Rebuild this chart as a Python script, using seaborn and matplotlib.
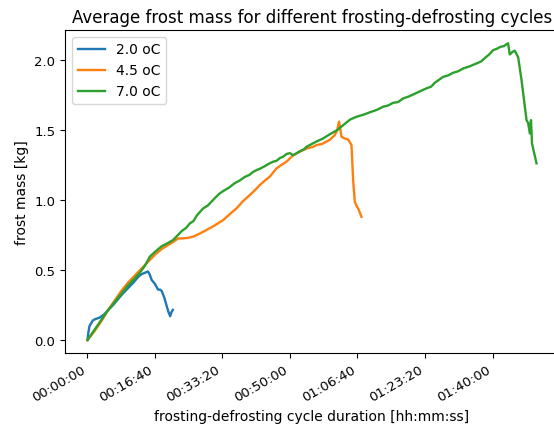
import numpy as np
import pandas as pd
import seaborn as sns
import matplotlib.pyplot as plt
from matplotlib.ticker import MultipleLocator, FuncFormatter

# cycle duration in seconds, average frost mass in kg
t_20 = [0, 15, 30, 55, 80, 120, 180, 240, 300, 380, 450, 520, 600, 680, 750, 800,
        850, 895, 920, 950, 1000, 1045, 1075, 1100, 1140, 1175, 1200, 1225, 1245, 1265]
m_20 = [0, 0.06, 0.10, 0.12, 0.14, 0.15, 0.16, 0.18, 0.21, 0.25, 0.29, 0.33, 0.37, 0.41, 0.45, 0.47,
        0.48, 0.49, 0.47, 0.43, 0.40, 0.36, 0.36, 0.35, 0.30, 0.24, 0.20, 0.17, 0.20, 0.215]

t_45 = [0, 100, 200, 300, 400, 500, 600, 700, 800, 900, 1000, 1100, 1200, 1268, 1340, 1417,
        1490, 1565, 1660, 1763, 1890, 2010, 2110, 2207, 2300, 2405, 2480, 2553, 2630, 2701,
        2800, 2870, 2948, 3046, 3145, 3194, 3260, 3342, 3393, 3470, 3590, 3664, 3700, 3727,
        3763, 3810, 3861, 3911, 3935, 3960, 3985, 4009, 4035, 4059]
m_45 = [0, 0.06, 0.13, 0.21, 0.28, 0.35, 0.41, 0.46, 0.51, 0.56, 0.61, 0.65, 0.68, 0.70, 0.725, 0.726,
        0.73, 0.738, 0.76, 0.786, 0.82, 0.857, 0.90, 0.94, 0.99, 1.036, 1.07, 1.107, 1.14, 1.167,
        1.226, 1.25, 1.274, 1.32, 1.345, 1.357, 1.37, 1.38, 1.393, 1.40, 1.43, 1.464, 1.50, 1.56,
        1.452, 1.44, 1.433, 1.393, 1.143, 0.988, 0.96, 0.94, 0.91, 0.88]

t_70 = [0, 100, 200, 300, 400, 500, 600, 700, 775, 850, 923, 1000, 1100, 1180, 1268, 1340, 1400,
        1460, 1516, 1570, 1620, 1713, 1780, 1840, 1900, 1960, 2030, 2100, 2180, 2256, 2330,
        2400, 2450, 2504, 2560, 2620, 2690, 2750, 2800, 2850, 2900, 2948, 3000, 3046, 3100,
        3150, 3200, 3244, 3320, 3400, 3490, 3590, 3700, 3800, 3890, 3985, 4090, 4200, 4290,
        4380, 4450, 4530, 4600, 4676, 4760, 4850, 4940, 5022, 5090, 5150, 5210, 5268, 5340,
        5420, 5490, 5565, 5660, 5763, 5830, 5900, 5950, 6010, 6060, 6120, 6170, 6207, 6231,
        6256, 6300, 6330, 6380, 6430, 6504, 6528, 6553, 6570, 6585, 6620, 6652]
m_70 = [0, 0.07, 0.14, 0.21, 0.27, 0.33, 0.39, 0.44, 0.48, 0.53, 0.595, 0.63, 0.67, 0.69, 0.714, 0.75, 0.78,
        0.80, 0.833, 0.85, 0.89, 0.94, 0.96, 0.99, 1.02, 1.048, 1.07, 1.09, 1.12, 1.14, 1.165,
        1.18, 1.20, 1.214, 1.225, 1.24, 1.26, 1.274, 1.28, 1.30, 1.31, 1.329, 1.335, 1.32, 1.335,
        1.35, 1.36, 1.38, 1.40, 1.42, 1.44, 1.47, 1.50, 1.54, 1.575, 1.595, 1.61, 1.63, 1.645,
        1.667, 1.675, 1.695, 1.70, 1.726, 1.74, 1.76, 1.78, 1.798, 1.81, 1.84, 1.86, 1.88, 1.89,
        1.91, 1.92, 1.94, 1.955, 1.976, 1.99, 2.02, 2.04, 2.071, 2.08, 2.095, 2.10, 2.114, 2.12,
        2.04, 2.06, 2.067, 2.02, 1.857, 1.571, 1.55, 1.476, 1.571, 1.405, 1.33, 1.262]

labels = ['2.0 oC', '4.5 oC', '7.0 oC']

df = pd.concat([
    pd.DataFrame({'t': t_20, 'm': m_20, 'cycle': labels[0]}),
    pd.DataFrame({'t': t_45, 'm': m_45, 'cycle': labels[1]}),
    pd.DataFrame({'t': t_70, 'm': m_70, 'cycle': labels[2]}),
], ignore_index=True)

def hhmmss(x, pos):
    s = int(round(x))
    return '%02d:%02d:%02d' % (s // 3600, (s % 3600) // 60, s % 60)

fig = plt.figure(figsize=(5.54, 4.31), dpi=100)
ax = fig.add_axes([65 / 554, 77 / 431, 494 / 554, 323 / 431])
sns.lineplot(data=df, x='t', y='m', hue='cycle', palette=['#1f77b4', '#ff7f0e', '#2ca02c'],
             sort=False, estimator=None, linewidth=1.7, ax=ax)

ax.set_xlim(-333, 6985)
ax.set_ylim(-0.093, 2.215)
ax.xaxis.set_major_locator(MultipleLocator(1000))
ax.xaxis.set_major_formatter(FuncFormatter(hhmmss))
ax.yaxis.set_major_locator(MultipleLocator(0.5))
ax.tick_params(labelsize=9.5)
for lab in ax.get_xticklabels():
    lab.set_rotation(30)
    lab.set_ha('right')
ax.set_xlabel('frosting-defrosting cycle duration [hh:mm:ss]', fontsize=10)
ax.set_ylabel('frost mass [kg]', fontsize=10)
ax.set_title('Average frost mass for different frosting-defrosting cycles', fontsize=12)
ax.legend(loc='upper left', fontsize=10, title=None)

fig.savefig('out.png', dpi=100)
